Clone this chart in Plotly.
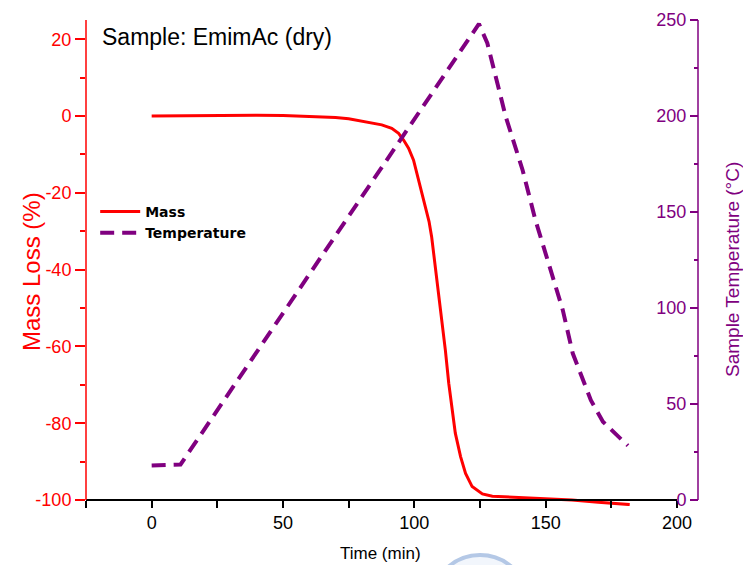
import plotly.graph_objects as go

# ---- data ----
mass_time = [0, 10, 20, 30, 40, 50, 60, 70, 75, 79.9, 84, 87.6, 91.4, 94.0, 95.9, 97.8, 99.7, 101.0,
             102.6, 104.3, 105.6, 106.6, 107.4, 108.3, 109.3, 110.6, 111.8, 113.1, 114.4, 115.6, 117.6,
             119.5, 122.0, 125.9, 129.7, 135, 140, 150, 160, 170, 175, 182]
mass_loss = [0, 0.05, 0.1, 0.2, 0.2, 0.1, -0.1, -0.4, -0.7, -1.3, -1.7, -2.3, -3.2, -4.5, -6.25, -8.4, -11.5, -14.9,
             -19.3, -23.6, -27.5, -31.5, -36.0, -41.5, -47.9, -54, -60.9, -69.6, -76.6, -82.6, -88.7,
             -93.1, -96.5, -98.4, -99.0, -99.2, -99.3, -99.6, -100.0, -100.6, -100.9, -101.2]

temp_time = [0, 11, 124.6, 127.8, 134.8, 141.2, 146.1, 151.4, 156.5, 160.3, 164.8, 167.2, 171.8, 178.3, 181.3]
temperature = [18, 18.5, 248, 237.9, 199.6, 171.9, 145.8, 121.5, 99, 76.4, 59.9, 52, 40.8, 32.3, 28.3]

x_ticks = [0, 50, 100, 150, 200]
x_minor = [-25, 25, 75, 125, 175]
y_ticks = [-100, -80, -60, -40, -20, 0, 20]
y_ticktext = ["-100", "-80", "-60", "-40", "-20", "0", "20"]
y2_ticks = [0, 50, 100, 150, 200, 250]

RED = "#FF0000"
PURPLE = "#800080"
FONT = "Liberation Sans, Arial, sans-serif"

# plot-area geometry (px): top 20, x-axis line 500, plot bottom 506 (lets the tail dip below the axis)
TOP, AXIS, BOTTOM, H = 20, 500, 506, 565
PH = BOTTOM - TOP
def py(ypx):
    return (BOTTOM - ypx) / PH
def px(xpx):
    return (xpx - 86) / 612

y_lo = -100 - 125 * (BOTTOM - AXIS) / (AXIS - TOP)
y2_lo = -250 * (BOTTOM - AXIS) / (AXIS - TOP)

fig = go.Figure()
fig.add_trace(go.Scatter(x=mass_time, y=mass_loss, name="Mass", mode="lines",
                         line=dict(color=RED, width=3)))
fig.add_trace(go.Scatter(x=temp_time, y=temperature, name="Temperature", mode="lines",
                         line=dict(color=PURPLE, width=4, dash="14px,8px"), yaxis="y2"))

fig.update_layout(
    width=743, height=H,
    margin=dict(l=86, r=45, t=TOP, b=H - BOTTOM),
    paper_bgcolor="white", plot_bgcolor="white",
    font=dict(family=FONT, color="black"),
    xaxis=dict(domain=[0, 0.9657], range=[-25, 200], tickvals=x_ticks,
               anchor="free", position=py(AXIS),
               ticks="outside", ticklen=7, tickwidth=1.5, tickcolor="black",
               showline=True, linecolor="black", linewidth=1.5,
               showgrid=False, zeroline=False, automargin=False,
               tickfont=dict(size=18, color="black"),
               minor=dict(tickvals=x_minor, ticks="outside", ticklen=7, tickwidth=1.5, tickcolor="black")),
    yaxis=dict(range=[y_lo, 25], tickvals=y_ticks, ticktext=y_ticktext,
               ticks="outside", ticklen=10, tickwidth=1.5, tickcolor=RED,
               showline=False,
               showgrid=False, zeroline=False, automargin=False,
               tickfont=dict(size=18, color=RED),
               minor=dict(tickvals=[-90, -70, -50, -30, -10, 10], ticks="outside", ticklen=5,
                          tickwidth=1.5, tickcolor=RED)),
    yaxis2=dict(range=[y2_lo, 250], tickvals=y2_ticks, overlaying="y", anchor="free", position=1.0, side="left",
                ticks="outside", ticklen=8, tickwidth=1.5, tickcolor=PURPLE,
                showline=False,
                showgrid=False, zeroline=False, automargin=False,
                tickfont=dict(size=18, color=PURPLE),
                minor=dict(tickvals=[25, 75, 125, 175, 225], ticks="outside", ticklen=4,
                           tickwidth=1.5, tickcolor=PURPLE)),
    legend=dict(x=0.015, y=py(196), xanchor="left", yanchor="top", bgcolor="rgba(0,0,0,0)",
                font=dict(size=14, color="black", weight="bold", family="DejaVu Sans, sans-serif"),
                tracegroupgap=0, itemwidth=40),
    showlegend=True,
    shapes=[
        # left (red) and right (purple) axis lines, spanning only the axis ranges
        dict(type="line", xref="paper", yref="y", x0=0, x1=0, y0=-100, y1=25,
             line=dict(color=RED, width=1.5)),
        dict(type="line", xref="paper", yref="y2", x0=1, x1=1, y0=0, y1=250,
             line=dict(color=PURPLE, width=1.5)),
        # faint watermark at the bottom edge
        dict(type="circle", xref="paper", yref="paper", layer="below",
             x0=px(430), x1=px(530), y0=py(660), y1=py(555),
             line=dict(color="#B4C8E6", width=4), fillcolor="#F2F6FC"),
    ],
    annotations=[
        dict(text="Sample: EmimAc (dry)", x=px(100), y=py(37), xref="paper", yref="paper",
             xanchor="left", yanchor="middle", showarrow=False, font=dict(size=23, color="black")),
        dict(text="Mass Loss (%)", x=px(31), y=py(272), xref="paper", yref="paper", textangle=-90,
             xanchor="center", yanchor="middle", showarrow=False, font=dict(size=24, color=RED)),
        dict(text="Sample Temperature (°C)", x=px(732), y=py(270), xref="paper", yref="paper", textangle=-90,
             xanchor="center", yanchor="middle", showarrow=False, font=dict(size=19, color=PURPLE)),
        dict(text="Time (min)", x=px(380), y=py(553), xref="paper", yref="paper",
             xanchor="center", yanchor="middle", showarrow=False, font=dict(size=17, color="black")),
    ],
)

fig.write_html("out.html", config={"displayModeBar": False},
               post_script="document.body.style.margin='0';")
